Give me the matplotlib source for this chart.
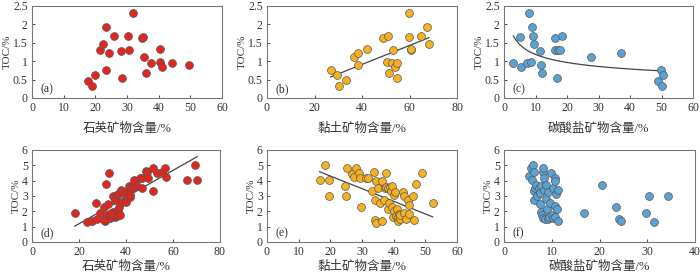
import matplotlib
matplotlib.use("Agg")
import matplotlib.pyplot as plt
import numpy as np

plt.rcParams['font.family'] = ['Liberation Serif', 'Noto Sans CJK SC']

RED = "#e3261d"
ORANGE = "#f5b120"
BLUE = "#5ba2d4"

# (a) quartz vs TOC, (b) clay vs TOC, (c) carbonate vs TOC  -- top row
quartz_a = [17.7, 19.1, 20.0, 21.4, 22.3, 23.3, 23.4, 24.3, 25.9, 28.0, 28.4, 30.3,
            30.5, 32.0, 34.8, 34.9, 35.3, 36.0, 37.6, 40.4, 40.5, 40.9, 44.2, 49.5]
toc_a = [0.47, 0.32, 0.62, 1.31, 1.47, 0.75, 1.93, 1.21, 1.69, 1.29, 0.54, 1.68,
         1.30, 2.31, 1.64, 1.65, 1.12, 0.67, 0.95, 1.32, 0.98, 0.83, 0.96, 0.90]

clay_b = [26.8, 29.3, 30.4, 33.1, 36.6, 38.2, 38.5, 42.3, 48.7, 51.0, 50.4, 51.4,
          52.5, 52.9, 53.7, 54.6, 54.8, 59.7, 59.9, 60.6, 60.8, 64.7, 67.5, 68.2]
toc_b = [0.75, 0.62, 0.32, 0.48, 1.12, 1.21, 0.90, 1.32, 1.63, 1.68, 0.98, 0.67,
         0.95, 1.30, 0.83, 0.54, 0.95, 2.31, 1.65, 1.30, 1.33, 1.69, 1.93, 1.47]

carb_c = [3.0, 5.0, 5.4, 7.4, 8.0, 8.7, 8.9, 9.3, 9.5, 11.3, 11.8, 12.2,
          16.2, 16.3, 16.9, 17.3, 17.7, 18.5, 27.7, 37.3, 48.9, 49.7, 50.3, 50.5]
toc_c = [0.96, 1.65, 0.83, 0.95, 2.31, 0.97, 1.93, 1.69, 1.47, 1.29, 0.90, 0.67,
         1.63, 1.30, 0.54, 1.31, 1.31, 1.69, 1.12, 1.21, 0.47, 0.75, 0.32, 0.62]

# (d) quartz, (e) clay, (f) carbonate -- bottom row
quartz_d = [18.3, 23.4, 25.5, 27.1, 27.8, 29.1, 30.8, 31.1, 31.7, 32.0, 32.4, 31.7,
            32.6, 33.1, 33.8, 34.3, 34.5, 35.2, 35.2, 36.0, 36.4, 36.2, 36.8, 37.1,
            37.6, 37.8, 38.1, 38.1, 39.5, 40.2, 40.5, 41.3, 41.6, 41.9, 42.3, 42.8,
            43.3, 44.7, 45.9, 46.6, 47.0, 48.4, 49.0, 49.4, 51.3, 51.3, 53.0, 55.5,
            56.5, 57.2, 65.8, 69.2, 70.3, 33.7, 30.8]
toc_d = [1.88, 1.29, 1.40, 2.55, 1.47, 1.90, 2.27, 1.35, 1.53, 1.75, 2.49, 3.80,
         4.49, 1.57, 1.70, 1.96, 3.01, 1.62, 2.73, 3.06, 3.16, 1.70, 2.10, 2.29,
         1.79, 3.38, 3.23, 2.62, 3.16, 2.58, 3.34, 3.67, 2.95, 3.05, 3.49, 3.60,
         4.04, 3.67, 4.15, 3.49, 4.15, 4.63, 4.54, 4.19, 4.80, 3.34, 4.47, 4.58,
         4.80, 4.26, 4.06, 5.02, 4.06, 1.92, 1.45]

clay_e = [16.6, 18.2, 19.7, 19.7, 24.5, 24.8, 25.2, 26.7, 27.4, 28.2, 29.2, 29.5,
          29.8, 31.4, 32.0, 33.3, 33.7, 34.1, 34.4, 34.2, 34.4, 35.2, 35.8, 36.3,
          36.4, 36.9, 37.3, 37.6, 37.6, 38.1, 38.3, 38.5, 38.8, 39.1, 39.4, 39.6,
          39.8, 40.0, 40.2, 40.4, 40.7, 40.9, 41.3, 41.5, 41.7, 41.9, 42.1, 42.8,
          43.2, 43.4, 43.8, 44.5, 44.7, 44.7, 46.0, 46.4, 47.0, 49.1, 52.3]
toc_e = [4.04, 5.00, 4.04, 2.97, 3.67, 3.01, 4.80, 4.45, 4.26, 4.80, 4.49, 4.19,
         2.27, 4.15, 4.15, 3.34, 4.58, 2.71, 3.97, 1.46, 1.27, 3.49, 2.57, 3.97,
         1.40, 2.77, 3.49, 4.49, 3.60, 3.49, 2.14, 2.53, 3.60, 3.32, 3.64, 2.27,
         1.61, 2.05, 3.05, 3.23, 1.70, 2.14, 1.35, 1.66, 1.83, 1.53, 1.75, 3.23,
         1.88, 3.01, 1.53, 2.71, 1.81, 2.40, 3.01, 1.46, 3.80, 4.49, 2.55]

carb_f = [5.3, 5.7, 6.0, 5.9, 6.2, 6.2, 6.2, 6.5, 6.8, 7.0, 7.4, 7.6,
          7.6, 7.8, 7.8, 7.9, 8.1, 8.2, 8.2, 8.3, 8.3, 8.6, 8.8, 8.9,
          9.0, 9.2, 9.3, 9.5, 9.7, 9.9, 10.0, 10.2, 10.3, 10.6, 10.6, 10.7,
          10.7, 10.9, 11.1, 11.4, 11.4, 16.7, 20.6, 23.5, 24.0, 24.6, 29.8, 30.4,
          31.5, 34.3]
toc_f = [4.28, 4.80, 5.02, 4.06, 4.58, 3.32, 2.71, 3.49, 3.75, 3.01, 3.49, 3.19,
         2.49, 1.96, 3.62, 1.75, 4.54, 4.80, 1.57, 4.19, 3.40, 1.53, 2.79, 3.75,
         2.18, 3.27, 1.53, 1.66, 2.57, 4.47, 1.79, 3.49, 1.57, 1.66, 2.36, 4.19,
         3.97, 3.10, 2.14, 3.40, 1.35, 1.88, 3.69, 2.27, 1.53, 1.40, 1.88, 2.99,
         1.31, 3.03]

# trend lines: (kind, coef1, coef2, xmin, xmax)
fit_b = ("lin", 0.0258, -0.12, 26.8, 68.2)
fit_c = ("pow", 2.33, -0.294, 3.0, 50.0)
fit_d = ("lin", 0.087, -0.55, 18.2, 70.3)
fit_e = ("lin", -0.0824, 5.95, 16.6, 52.3)

xlabels = ["石英矿物含量/%", "黏土矿物含量/%", "碳酸盐矿物含量/%"]

panels = [
    # x, y, color, fit, xlim, xstep, ylim, ystep, tag, axes box in pixels
    (quartz_a, toc_a, RED, None, 60, 10, 2.5, 0.5, "(a)", [32, 6, 222, 98]),
    (clay_b, toc_b, ORANGE, fit_b, 80, 20, 2.5, 0.5, "(b)", [267, 6, 457, 98]),
    (carb_c, toc_c, BLUE, fit_c, 60, 10, 2.5, 0.5, "(c)", [504, 6, 693, 98]),
    (quartz_d, toc_d, RED, fit_d, 80, 20, 6, 1, "(d)", [32, 150, 220, 242]),
    (clay_e, toc_e, ORANGE, fit_e, 60, 10, 6, 1, "(e)", [267, 150, 457, 242]),
    (carb_f, toc_f, BLUE, None, 40, 10, 6, 1, "(f)", [504, 150, 695, 242]),
]

W, H = 700, 275
fig = plt.figure(figsize=(7, 2.75), dpi=100)

for i, (x, y, col, fit, xmax, xstep, ymax, ystep, tag, r) in enumerate(panels):
    ax = fig.add_axes([r[0] / W, (H - r[3]) / H, (r[2] - r[0]) / W, (r[3] - r[1]) / H])
    if fit is not None:
        kind, a, b, x0, x1 = fit
        xx = np.linspace(x0, x1, 100)
        yy = a * xx + b if kind == "lin" else a * xx ** b
        ax.plot(xx, yy, color="#444444", lw=0.9, zorder=2)
    ax.scatter(x, y, s=32, c=col, edgecolors="#555555", linewidths=0.5, zorder=3)
    ax.set_xlim(0, xmax)
    ax.set_ylim(0, ymax)
    ax.set_xticks(np.arange(0, xmax + 0.01, xstep))
    yt = np.arange(0, ymax + 0.001, ystep)
    ax.set_yticks(yt)
    ax.set_yticklabels([("%g" % v) for v in yt])
    ax.tick_params(direction="in", length=2.5, width=0.6, labelsize=8.5,
                   colors="#333333", pad=3)
    for s in ax.spines.values():
        s.set_color("#777777")
        s.set_linewidth(0.8)
    ax.set_ylabel("TOC/%", fontsize=8, color="#333333", labelpad=1)
    ax.set_xlabel(xlabels[i % 3], fontsize=9, color="#333333",
                  labelpad=6 if i < 3 else 2)
    ax.text(0.045, 0.06, tag, transform=ax.transAxes, fontsize=8.5, color="#333333")

fig.savefig("out.png", dpi=100)
